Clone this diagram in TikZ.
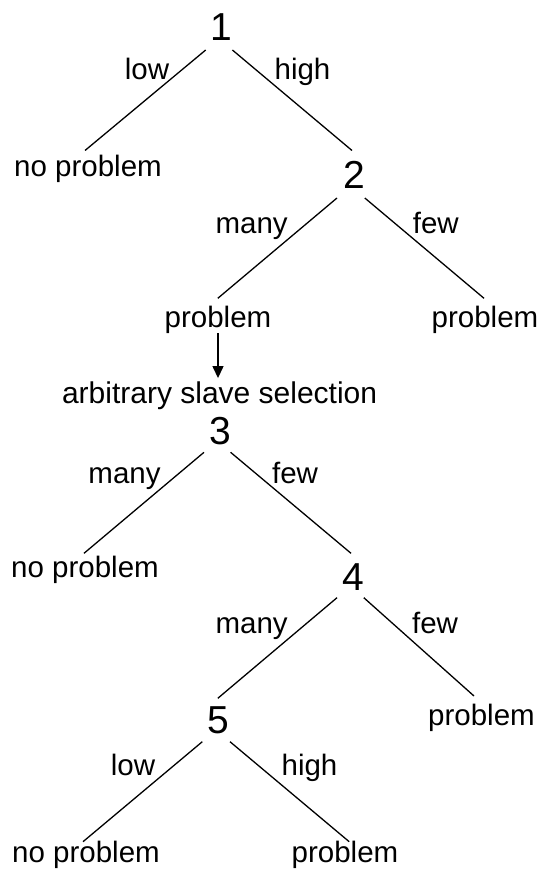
\documentclass[tikz,border=0pt]{standalone}
\usepackage{fontspec}
\setmainfont{Liberation Sans}
\usetikzlibrary{arrows.meta}
\begin{document}
\begin{tikzpicture}[x=1pt,y=-1pt,
  digit/.style={anchor=base,inner sep=0pt,font=\fontsize{39}{44}\selectfont},
  leaf/.style={anchor=base,inner sep=0pt,font=\fontsize{29.5}{34}\selectfont},
  cond/.style={anchor=base,inner sep=0pt,font=\fontsize{29.5}{34}\selectfont},
  edge/.style={line width=1.3pt},
]
\useasboundingbox (0,0) rectangle (542,869);

% decision points
\node[digit] (n1) at (221,41)  {1};
\node[digit] (n2) at (354,189) {2};
\node[digit] (n3) at (220,444) {3};
\node[digit] (n4) at (353,590) {4};
\node[digit] (n5) at (218.5,733) {5};

% outcomes
\node[leaf] (np1) at (88,176) {no problem};
\node[leaf] (pL)  at (218,327)  {problem};
\node[leaf] (pR)  at (485,327)  {problem};
\node[leaf,font=\fontsize{30}{35}\selectfont] (arb) at (219.6,403) {arbitrary slave selection};
\node[leaf] (np3) at (85,577)   {no problem};
\node[leaf] (p4)  at (481.5,725) {problem};
\node[leaf] (np5) at (86,862.5) {no problem};
\node[leaf] (p5)  at (345,862.5) {problem};

% branch conditions
\node[cond] (c1l) at (147,80)    {low};
\node[cond] (c1r) at (302.5,80)  {high};
\node[cond] (c2l) at (251.6,233) {many};
\node[cond] (c2r) at (435.8,233) {few};
\node[cond] (c3l) at (124.5,483) {many};
\node[cond] (c3r) at (295,483)   {few};
\node[cond] (c4l) at (251.6,633) {many};
\node[cond] (c4r) at (435,633)   {few};
\node[cond] (c5l) at (133,775)   {low};
\node[cond] (c5r) at (309.5,775) {high};

% branch end points
\coordinate (n1a) at (205.7,50);   \coordinate (np1a) at (85,150.5);
\coordinate (n1b) at (232.4,50);   \coordinate (n2t)  at (352,150.5);
\coordinate (n2a) at (337,198);    \coordinate (pLt)  at (217.8,298.3);
\coordinate (n2b) at (364.8,198);  \coordinate (pRt)  at (484,298.3);
\coordinate (n3a) at (204,452.3);  \coordinate (np3t) at (84,553.3);
\coordinate (n3b) at (230.6,452.3);\coordinate (n4t)  at (351,553.3);
\coordinate (n4a) at (337,597.7);  \coordinate (n5t)  at (217.8,698.3);
\coordinate (n4b) at (363.8,597.7);\coordinate (p4t)  at (474,696);
\coordinate (n5a) at (202.3,741.7);\coordinate (np5t) at (83,841.7);
\coordinate (n5b) at (230,741.7);  \coordinate (p5t)  at (349.2,841.7);

% branches
\draw[edge] (n1a) -- (np1a);
\draw[edge] (n1b) -- (n2t);
\draw[edge] (n2a) -- (pLt);
\draw[edge] (n2b) -- (pRt);
\draw[edge] (n3a) -- (np3t);
\draw[edge] (n3b) -- (n4t);
\draw[edge] (n4a) -- (n5t);
\draw[edge] (n4b) -- (p4t);
\draw[edge] (n5a) -- (np5t);
\draw[edge] (n5b) -- (p5t);

% fallback step
\draw[edge,-{Triangle[width=11pt,length=12pt]},shorten >=3pt]
  (pL.south) -- (pL.south |- arb.north);
\end{tikzpicture}
\end{document}
